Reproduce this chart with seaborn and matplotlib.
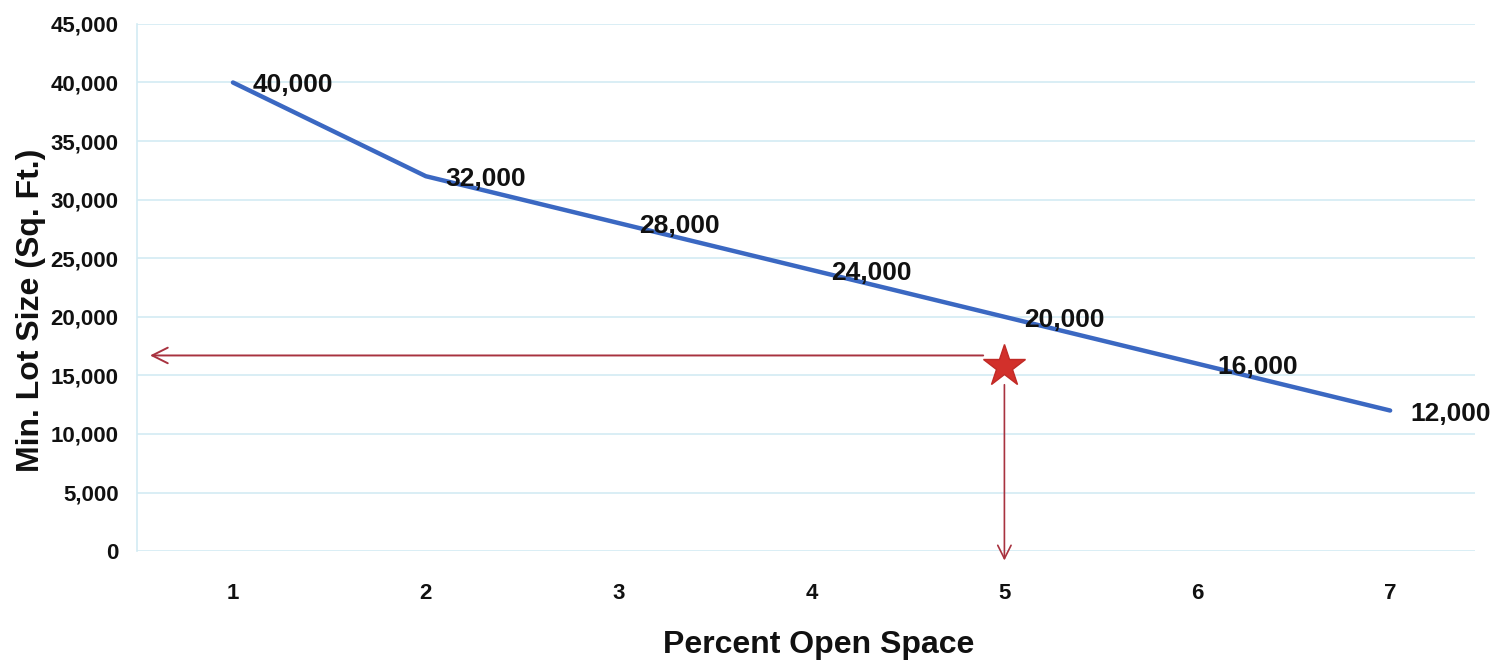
import matplotlib
matplotlib.use("Agg")
import matplotlib.pyplot as plt
import numpy as np
import pandas as pd
import seaborn as sns

# Minimum lot size for each percentage of open space
percent_open_space = [1, 2, 3, 4, 5, 6, 7]
min_lot_size = [40000, 32000, 28000, 24000, 20000, 16000, 12000]
value_labels = ["40,000", "32,000", "28,000", "24,000", "20,000", "16,000", "12,000"]

y_ticks = [0, 5000, 10000, 15000, 20000, 25000, 30000, 35000, 40000, 45000]

# Example lot marked with a star and read-off arrows
example_pct = 5
example_lot = 15800
readoff_level = 16700

sns.set_theme(style="white")
plt.rcParams["font.family"] = ["Liberation Sans Narrow", "Liberation Sans", "DejaVu Sans"]

df = pd.DataFrame({"pct": percent_open_space, "lot": min_lot_size})

fig = plt.figure(figsize=(14.97, 6.64), dpi=100)
ax = fig.add_axes([0.0912, 0.170, 0.9853 - 0.0912, 0.964 - 0.170])

sns.lineplot(data=df, x="pct", y="lot", ax=ax, color="#3b68c2", linewidth=3.2,
             zorder=3)

ax.set_xlim(0.5, 7.44)
ax.set_ylim(0, 45000)
ax.set_yticks(y_ticks)
ax.set_yticklabels([f"{v:,}" for v in y_ticks])
ax.set_xticks(percent_open_space)
ax.set_xticklabels([str(p) for p in percent_open_space])

grid_color = "#d3ebf3"
ax.yaxis.grid(True, color=grid_color, linewidth=1.2)
ax.xaxis.grid(False)
for side in ["top", "right", "bottom"]:
    ax.spines[side].set_visible(False)
ax.spines["left"].set_color(grid_color)
ax.spines["left"].set_linewidth(1.2)

ax.tick_params(axis="y", length=0, pad=13, labelsize=16, labelcolor="#111111")
ax.tick_params(axis="x", length=0, pad=23, labelsize=16, labelcolor="#111111")
for lab in ax.get_xticklabels() + ax.get_yticklabels():
    lab.set_fontweight("bold")

ax.set_xlabel("Percent Open Space", fontsize=23, fontweight="bold",
              color="#111111")
ax.set_ylabel("Min. Lot Size (Sq. Ft.)", fontsize=23, fontweight="bold",
              color="#111111")
ax.xaxis.set_label_coords(0.51, -0.15)
ax.yaxis.set_label_coords(-0.068, 0.457)

# Value labels beside each point
for x, y, lab in zip(percent_open_space, min_lot_size, value_labels):
    ax.annotate(lab, xy=(x, y), xytext=(20, -3), textcoords="offset pixels",
                ha="left", va="center", fontsize=19, fontweight="bold",
                color="#111111", annotation_clip=False, zorder=4)

# Star for the example lot
ax.plot([example_pct], [example_lot], marker="*", markersize=32,
        color="#d2302b", markeredgecolor="#c02a26", zorder=5, clip_on=False)

arrow_color = "#a8323f"
# Read-off arrow to the lot-size axis
ax.annotate("", xy=(0.57, readoff_level), xytext=(example_pct - 0.11, readoff_level),
            arrowprops=dict(arrowstyle="->", color=arrow_color, lw=1.4,
                            mutation_scale=28, shrinkA=0, shrinkB=0),
            annotation_clip=False)
# Read-off arrow to the open-space axis
ax.annotate("", xy=(example_pct, -800), xytext=(example_pct, example_lot - 1600),
            arrowprops=dict(arrowstyle="->", color=arrow_color, lw=1.2,
                            mutation_scale=24, shrinkA=0, shrinkB=0),
            annotation_clip=False)

fig.savefig("out.png", dpi=100)
